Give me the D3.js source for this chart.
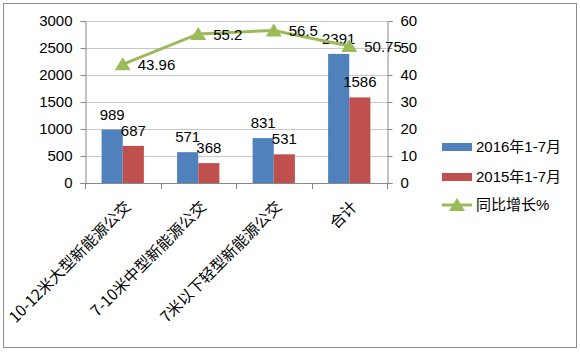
<!DOCTYPE html>
<html>
<head>
<meta charset="utf-8">
<script src="https://cdn.jsdelivr.net/npm/d3@7"></script>
<style>
  body { margin: 0; background: #fff; }
  text { font-family: "Liberation Sans", "Noto Sans CJK SC", sans-serif; fill: #000; }
</style>
</head>
<body>
<div id="chart"></div>
<script>
// data
const categories = ["10-12米大型新能源公交", "7-10米中型新能源公交", "7米以下轻型新能源公交", "合计"];
const sales2016 = [989, 571, 831, 2391];
const sales2015 = [687, 368, 531, 1586];
const growth = [43.96, 55.2, 56.5, 50.75];
const growthLabels = ["43.96", "55.2", "56.5", "50.75"];
const leftTicks = [0, 500, 1000, 1500, 2000, 2500, 3000];
const rightTicks = [0, 10, 20, 30, 40, 50, 60];
const seriesNames = ["2016年1-7月", "2015年1-7月", "同比增长%"];

const colors = { blue: "#4F81BD", red: "#C0504D", green: "#9BBB59" };

const W = 580, H = 353;
const plot = { left: 85, right: 387, top: 21, bottom: 183 };

const svg = d3.select("#chart").append("svg")
    .attr("width", W)
    .attr("height", H);

// outer frame
svg.append("rect")
    .attr("x", 3.5).attr("y", 3.5)
    .attr("width", 573).attr("height", 344)
    .attr("fill", "#fff")
    .attr("stroke", "#8c8c8c");

const x0 = d3.scaleBand()
    .domain(categories)
    .range([plot.left, plot.right])
    .paddingInner(0.44)
    .paddingOuter(0.22);

const x1 = d3.scaleBand()
    .domain(["2016", "2015"])
    .range([0, x0.bandwidth()]);

const yL = d3.scaleLinear().domain([0, 3000]).range([plot.bottom, plot.top]);
const yR = d3.scaleLinear().domain([0, 60]).range([plot.bottom, plot.top]);

// gridlines
svg.append("g")
    .selectAll("line")
    .data(leftTicks.slice(1))
    .join("line")
    .attr("x1", plot.left).attr("x2", plot.right)
    .attr("y1", d => yL(d) + 0.5).attr("y2", d => yL(d) + 0.5)
    .attr("stroke", "#c8c8c8");

// left axis
const axL = svg.append("g")
    .attr("transform", `translate(${plot.left + 0.5},0)`)
    .call(d3.axisLeft(yL).tickValues(leftTicks).tickFormat(d3.format("d")).tickSize(5).tickPadding(8));
axL.selectAll("text").style("font-size", "15px");

// right axis
const axR = svg.append("g")
    .attr("transform", `translate(${plot.right + 0.5},0)`)
    .call(d3.axisRight(yR).tickValues(rightTicks).tickFormat(d3.format("d")).tickSize(5).tickPadding(8));
axR.selectAll("text").style("font-size", "15px");

// bottom axis: tick marks at band boundaries
const step = x0.step();
const edges = d3.range(categories.length + 1).map(i => plot.left + i * step);
svg.append("line")
    .attr("x1", plot.left).attr("x2", plot.right)
    .attr("y1", plot.bottom + 0.5).attr("y2", plot.bottom + 0.5)
    .attr("stroke", "#888");
svg.append("g")
    .selectAll("line")
    .data(edges)
    .join("line")
    .attr("x1", d => Math.round(d) + 0.5).attr("x2", d => Math.round(d) + 0.5)
    .attr("y1", plot.bottom).attr("y2", plot.bottom + 6)
    .attr("stroke", "#888");

[axL, axR].forEach(a => {
    a.select(".domain").attr("stroke", "#888");
    a.selectAll(".tick line").attr("stroke", "#888");
});

// category labels, rotated
svg.append("g")
    .selectAll("text")
    .data(categories)
    .join("text")
    .attr("transform", d => `translate(${x0(d) + x0.bandwidth() / 2 + 5},${plot.bottom + 21}) rotate(-45)`)
    .attr("text-anchor", "end")
    .attr("dy", "0.35em")
    .style("font-family", "'Noto Sans CJK SC', sans-serif")
    .style("font-size", "15.5px")
    .text(d => d);

// bars
const barData = categories.map((c, i) => [
    { cat: c, key: "2016", v: sales2016[i], color: colors.blue },
    { cat: c, key: "2015", v: sales2015[i], color: colors.red }
]).flat();

svg.append("g")
    .selectAll("rect")
    .data(barData)
    .join("rect")
    .attr("x", d => x0(d.cat) + x1(d.key))
    .attr("y", d => yL(d.v))
    .attr("width", x1.bandwidth())
    .attr("height", d => yL(0) - yL(d.v))
    .attr("fill", d => d.color);

svg.append("g")
    .selectAll("text")
    .data(barData)
    .join("text")
    .attr("x", d => x0(d.cat) + x1(d.key) + x1.bandwidth() / 2)
    .attr("y", d => yL(d.v) - 10)
    .attr("text-anchor", "middle")
    .style("font-size", "15px")
    .text(d => d.v);

// growth line
const lineData = categories.map((c, i) => ({ cat: c, v: growth[i], label: growthLabels[i] }));
const cx = d => x0(d.cat) + x0.bandwidth() / 2;

svg.append("path")
    .datum(lineData)
    .attr("fill", "none")
    .attr("stroke", colors.green)
    .attr("stroke-width", 3)
    .attr("d", d3.line().x(cx).y(d => yR(d.v)));

const tri = "M0,-7L8,6L-8,6Z";
svg.append("g")
    .selectAll("path")
    .data(lineData)
    .join("path")
    .attr("transform", d => `translate(${cx(d)},${yR(d.v)})`)
    .attr("d", tri)
    .attr("fill", colors.green);

svg.append("g")
    .selectAll("text")
    .data(lineData)
    .join("text")
    .attr("x", d => cx(d) + 15)
    .attr("y", d => yR(d.v))
    .attr("dy", "0.4em")
    .style("font-size", "15px")
    .text(d => d.label);

// legend
const legend = svg.append("g");
const legY = [147, 177, 205];
seriesNames.forEach((name, i) => {
    const g = legend.append("g").attr("transform", `translate(442,${legY[i]})`);
    if (i < 2) {
        g.append("rect")
            .attr("x", 0).attr("y", -4)
            .attr("width", 30).attr("height", 8)
            .attr("fill", i === 0 ? colors.blue : colors.red);
    } else {
        g.append("line")
            .attr("x1", 0).attr("x2", 30)
            .attr("stroke", colors.green).attr("stroke-width", 3);
        g.append("path")
            .attr("transform", "translate(15,0)")
            .attr("d", tri)
            .attr("fill", colors.green);
    }
    g.append("text")
        .attr("x", 34)
        .attr("dy", "0.35em")
        .style("font-size", "15px")
        .text(name);
});
</script>
</body>
</html>
